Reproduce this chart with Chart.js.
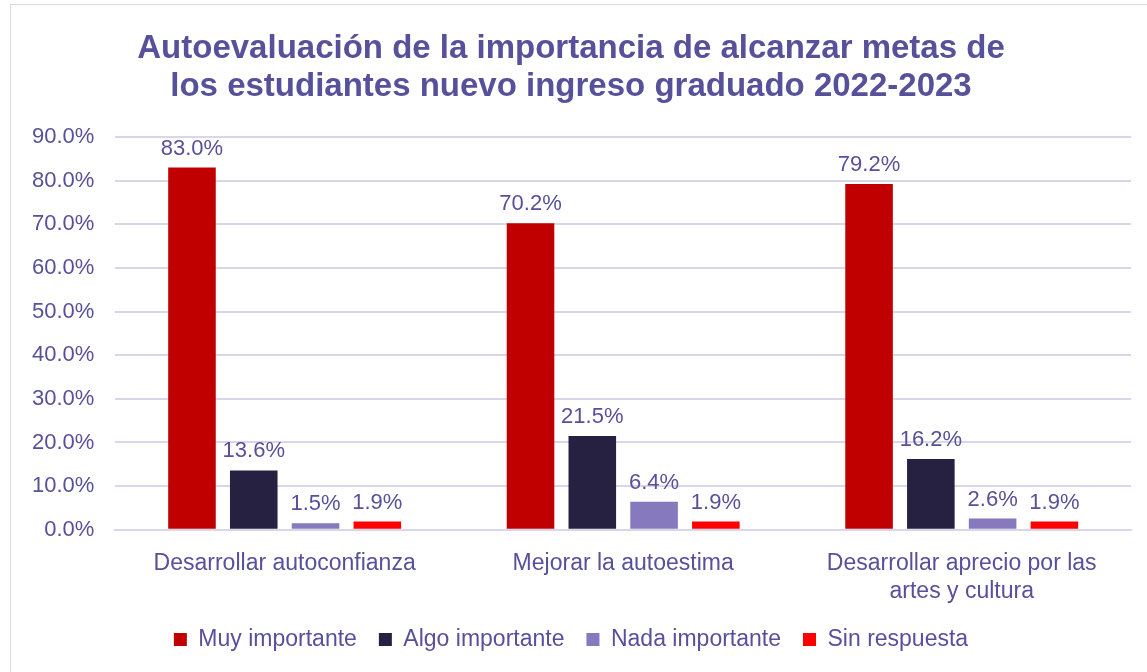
<!DOCTYPE html>
<html>
<head>
<meta charset="utf-8">
<script src="https://cdn.jsdelivr.net/npm/chart.js@4.4.0/dist/chart.umd.min.js"></script>
<style>
  html, body { margin: 0; padding: 0; background: #fff; }
  .frame {
    position: absolute; left: 10px; top: 4px; width: 1140px; height: 672px;
    border: 1px solid #d9d6ea; box-sizing: border-box;
  }
  .wrap { position: absolute; left: 11px; top: 5px; width: 1136px; height: 667px; }
</style>
</head>
<body>
<div class="frame"></div>
<div class="wrap"><canvas id="chart"></canvas></div>
<script>
  const categories = [
    'Desarrollar autoconfianza',
    'Mejorar la autoestima',
    ['Desarrollar aprecio por las', 'artes y cultura']
  ];
  const seriesNames = ['Muy importante', 'Algo importante', 'Nada importante', 'Sin respuesta'];
  const muyImportante = [83.0, 70.2, 79.2];
  const algoImportante = [13.6, 21.5, 16.2];
  const nadaImportante = [1.5, 6.4, 2.6];
  const sinRespuesta = [1.9, 1.9, 1.9];
  const colors = ['#c00000', '#262140', '#8779bd', '#ff0000'];

  const textColor = '#57509a';
  const font = '"Liberation Sans", Arial, sans-serif';

  // draws the value above each bar
  const valueLabels = {
    id: 'valueLabels',
    afterDatasetsDraw(chart) {
      const ctx = chart.ctx;
      ctx.save();
      ctx.font = '22px ' + font;
      ctx.fillStyle = textColor;
      ctx.textAlign = 'center';
      ctx.textBaseline = 'bottom';
      chart.data.datasets.forEach((ds, i) => {
        chart.getDatasetMeta(i).data.forEach((bar, j) => {
          ctx.fillText(ds.data[j].toFixed(1) + '%', bar.x, bar.y - 8);
        });
      });
      ctx.restore();
    }
  };

  // nudge the legend up a bit, closer to the axis labels
  const legendNudge = {
    id: 'legendNudge',
    afterLayout(chart) {
      chart.legend.top -= 11;
      chart.legend.bottom -= 11;
    }
  };

  const values = [muyImportante, algoImportante, nadaImportante, sinRespuesta];

  new Chart(document.getElementById('chart'), {
    type: 'bar',
    data: {
      labels: categories,
      datasets: seriesNames.map((name, i) => ({
        label: name,
        data: values[i],
        backgroundColor: colors[i],
        borderWidth: 0,
        barPercentage: 0.77,
        categoryPercentage: 0.73
      }))
    },
    options: {
      responsive: true,
      maintainAspectRatio: false,
      animation: false,
      layout: { padding: { left: 0, right: 16, top: 12, bottom: 0 } },
      scales: {
        y: {
          min: 0,
          max: 90,
          ticks: {
            stepSize: 10,
            color: textColor,
            font: { size: 22, family: font },
            padding: 21,
            callback: v => v.toFixed(1) + '%'
          },
          grid: { color: '#d9d6ea', lineWidth: 2, drawTicks: false },
          border: { display: false }
        },
        x: {
          ticks: {
            color: textColor,
            font: { size: 23, family: font },
            padding: 12
          },
          grid: { display: false },
          border: { color: '#d9d6ea', width: 2 }
        }
      },
      plugins: {
        title: {
          display: true,
          text: ['Autoevaluación de la importancia de alcanzar metas de',
                 'los estudiantes nuevo ingreso graduado 2022-2023'],
          color: textColor,
          font: { size: 33, weight: 'bold', family: font, lineHeight: 1.15 },
          padding: { top: 13, bottom: 31 }
        },
        legend: {
          position: 'bottom',
          labels: {
            color: textColor,
            font: { size: 23, family: font },
            boxWidth: 13,
            boxHeight: 13,
            padding: 22
          }
        },
        tooltip: { enabled: false }
      }
    },
    plugins: [valueLabels, legendNudge]
  });
</script>
</body>
</html>
